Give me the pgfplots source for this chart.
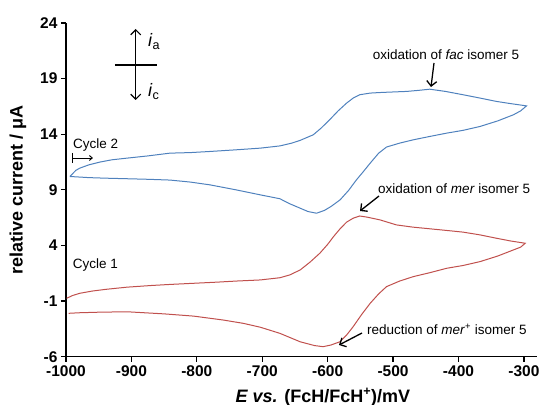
\documentclass[border=0pt]{standalone}
\usepackage{pgfplots}
\pgfplotsset{compat=1.18}
\usepackage{fontspec}
\setmainfont{Liberation Sans}
\usetikzlibrary{arrows.meta}
\definecolor{cvblue}{HTML}{4F81BD}
\definecolor{cvred}{HTML}{C0504D}
\begin{document}
\begin{tikzpicture}
\begin{axis}[
  scale only axis, width=471pt, height=333.7pt,
  xmin=-1000, xmax=-280, ymin=-6, ymax=24,
  axis lines*=left,
  axis line style={line width=1.2pt, -},
  xtick={-1000,-900,-800,-700,-600,-500,-400,-300},
  ytick={-6,-1,4,9,14,19,24},
  tick align=outside, major tick length=5pt,
  tick style={line width=1.2pt, black},
  tick label style={font=\fontsize{15.5}{18}\selectfont\bfseries},
  /pgf/number format/assume math mode=true,
  /pgf/number format/set thousands separator={},
  clip=false,
  xlabel={\textbf{\textit{E vs.}} \textbf{(FcH/FcH\textsuperscript{+})/mV}},
  xlabel style={font=\fontsize{18}{20}\selectfont, at={(rel axis cs:0.5456,0)}, anchor=base, yshift=-45.3pt, inner sep=0pt},
  ylabel={\textbf{relative current / μA}},
  ylabel style={font=\fontsize{18}{20}\selectfont, at={(axis description cs:-0.1019,0.5)}, anchor=center, inner sep=0pt},
]
% Cycle 2 (blue)
\addplot[color=cvblue, line width=1pt] coordinates {
(-994,10.2) (-985,10.75) (-979,10.95) (-965,11.25) (-948,11.5) (-930,11.7) (-907,11.85)
(-875,12.05) (-841,12.3) (-810,12.35) (-780,12.45) (-740,12.6) (-703,12.75) (-673,12.95)
(-655,13.2) (-642,13.45) (-622,13.95) (-610,14.55) (-597,15.3) (-584,16.1) (-571,16.8)
(-561,17.25) (-551,17.55) (-535,17.7) (-520,17.75) (-500,17.8) (-479,17.85) (-460,17.95)
(-444,18.05) (-420,17.85) (-393,17.55) (-367,17.25) (-342,16.95) (-320,16.75) (-296,16.55)
(-305,16.1) (-316,15.75) (-340,15.2) (-367,14.7) (-393,14.35) (-418,14.1) (-444,13.8)
(-469,13.5) (-490,13.2) (-510,12.85) (-522,12.3) (-535,11.4) (-546,10.6) (-556,9.9)
(-568,8.95) (-581,8.1) (-595,7.5) (-605,7.15) (-617,6.9) (-630,7.05) (-642,7.35)
(-658,7.75) (-673,8.2) (-703,8.55) (-740,9.0) (-780,9.45) (-810,9.7) (-841,9.88)
(-875,9.95) (-907,10.0) (-940,10.05) (-965,10.1) (-979,10.15) (-994,10.2)
};
% Cycle 1 (red)
\addplot[color=cvred, line width=1pt] coordinates {
(-999,-0.75) (-990,-0.5) (-979,-0.3) (-960,-0.1) (-940,0.05) (-907,0.25) (-870,0.4)
(-840,0.5) (-805,0.6) (-770,0.7) (-740,0.8) (-703,0.9) (-673,1.1) (-658,1.35)
(-642,1.8) (-627,2.5) (-612,3.3) (-600,4.1) (-591,4.8) (-581,5.5) (-571,6.1)
(-561,6.45) (-551,6.65) (-540,6.55) (-520,6.3) (-495,5.85) (-470,5.65) (-444,5.5)
(-418,5.35) (-393,5.2) (-367,4.95) (-342,4.65) (-320,4.4) (-298,4.2)
(-305,3.85) (-316,3.6) (-340,3.05) (-367,2.55) (-393,2.2) (-418,1.95) (-444,1.55)
(-469,1.2) (-490,0.8) (-510,0.3) (-522,-0.35) (-535,-1.2) (-548,-2.2) (-561,-3.3)
(-571,-4.05) (-581,-4.65) (-595,-4.95) (-607,-5.1) (-620,-5.0) (-642,-4.66) (-673,-3.9)
(-703,-3.35) (-729,-3.0) (-760,-2.7) (-805,-2.35) (-850,-2.15) (-907,-1.96) (-950,-2.0)
(-980,-2.05) (-996,-2.1)
};
\end{axis}
\pgfresetboundingbox
\path[use as bounding box] (-66pt,-48.3pt) rectangle (476pt,356.7pt);
\begin{scope}[font=\fontsize{13.5}{15}\selectfont]
% i_a / i_c indicator
\draw[line width=1.2pt, {Straight Barb[length=5pt,width=10pt]}-{Straight Barb[length=5pt,width=10pt]}] (69.7pt,327.7pt) -- (69.7pt,256.7pt);
\draw[line width=1.2pt] (49pt,291.7pt) -- (91pt,291.7pt);
\node[anchor=base west, inner sep=0pt, font=\fontsize{18}{20}\selectfont] at (82pt,309.7pt) {\textit{i}\textsubscript{a}};
\node[anchor=base west, inner sep=0pt, font=\fontsize{18}{20}\selectfont] at (82pt,259.7pt) {\textit{i}\textsubscript{c}};
% cycle labels
\node[anchor=base west, inner sep=0pt] at (7pt,207.7pt) {Cycle 2};
\draw[line width=0.9pt] (6pt,203.7pt) -- (6pt,193.7pt);
\draw[line width=0.9pt, -{Straight Barb[length=3pt,width=5pt]}] (6pt,198.7pt) -- (27pt,198.7pt);
\node[anchor=base west, inner sep=0pt] at (6.7pt,87.7pt) {Cycle 1};
% annotations
\node[anchor=base west, inner sep=0pt] at (306.7pt,296.7pt) {oxidation of \textit{fac} isomer 5};
\draw[line width=1.3pt, -{Straight Barb[length=5pt,width=10pt]}] (368pt,293.7pt) -- (365pt,269.7pt);
\node[anchor=base west, inner sep=0pt] at (312pt,162.7pt) {oxidation of \textit{mer} isomer 5};
\draw[line width=1.3pt, -{Straight Barb[length=5pt,width=10pt]}] (313pt,160.7pt) -- (294pt,145.7pt);
\node[anchor=base west, inner sep=0pt] at (301pt,21.7pt) {reduction of \textit{mer}\textsuperscript{+} isomer 5};
\draw[line width=1.3pt, -{Straight Barb[length=5pt,width=10pt]}] (296pt,23.7pt) -- (273pt,11.7pt);
\end{scope}
\end{tikzpicture}
\end{document}
